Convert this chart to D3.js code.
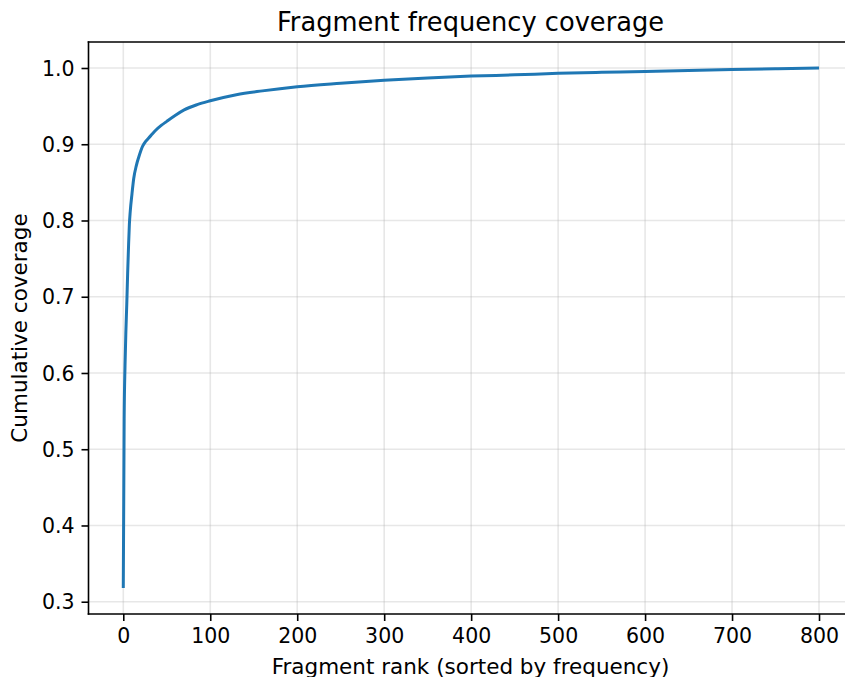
<!DOCTYPE html>
<html>
<head>
<meta charset="utf-8">
<script src="https://cdn.jsdelivr.net/npm/d3@7"></script>
<style>
  html, body { margin: 0; padding: 0; background: #fff; }
  svg { display: block; }
  text { font-family: "DejaVu Sans", sans-serif; fill: #000; }
</style>
</head>
<body>
<svg id="chart" width="845" height="677"></svg>
<script>
// ---- data ----
const ranks = [0, 1, 2, 3, 4, 5, 6, 7, 8, 10, 12, 15, 18, 22, 26, 29, 33, 37, 44, 50, 60, 70, 85, 100, 130, 160, 200, 250, 300, 350, 400, 450, 500, 550, 600, 650, 700, 750, 800];
const coverage = [0.318, 0.54, 0.61, 0.655, 0.69, 0.73, 0.765, 0.795, 0.812, 0.835, 0.855, 0.872, 0.884, 0.897, 0.904, 0.908, 0.913, 0.918, 0.925, 0.930, 0.938, 0.945, 0.952, 0.957, 0.965, 0.970, 0.9754, 0.980, 0.984, 0.987, 0.9894, 0.991, 0.993, 0.9943, 0.9955, 0.9968, 0.998, 0.999, 1.0];
const xTicks = [0, 100, 200, 300, 400, 500, 600, 700, 800];
const yTicks = [0.3, 0.4, 0.5, 0.6, 0.7, 0.8, 0.9, 1.0];
const titleText = "Fragment frequency coverage";
const xLabelText = "Fragment rank (sorted by frequency)";
const yLabelText = "Cumulative coverage";

const data = ranks.map((r, i) => ({ x: r, y: coverage[i] }));

const svg = d3.select("#chart");
const mLeft = 88.5, mRight = 853.8, mTop = 42, mBottom = 614;

const xMin = d3.min(ranks), xMax = d3.max(ranks);
const xPad = (xMax - xMin) * 0.05;
const yMin = d3.min(coverage), yMax = d3.max(coverage);
const yPad = (yMax - yMin) * 0.05;

const x = d3.scaleLinear().domain([xMin - xPad, xMax + xPad]).range([mLeft, mRight]);
const y = d3.scaleLinear().domain([yMin - yPad, yMax + yPad]).range([mBottom, mTop]);

// grid
const grid = svg.append("g");
grid.selectAll(".gx").data(xTicks).enter().append("line")
  .attr("x1", d => x(d)).attr("x2", d => x(d))
  .attr("y1", mTop).attr("y2", mBottom)
  .attr("stroke", "#b0b0b0").attr("stroke-opacity", 0.3).attr("stroke-width", 1.6);
grid.selectAll(".gy").data(yTicks).enter().append("line")
  .attr("x1", mLeft).attr("x2", mRight)
  .attr("y1", d => y(d)).attr("y2", d => y(d))
  .attr("stroke", "#b0b0b0").attr("stroke-opacity", 0.3).attr("stroke-width", 1.6);

// line
const line = d3.line().x(d => x(d.x)).y(d => y(d.y)).curve(d3.curveMonotoneX);
svg.append("path").datum(data)
  .attr("d", line)
  .attr("fill", "none")
  .attr("stroke", "#1f77b4")
  .attr("stroke-width", 3)
  .attr("stroke-linejoin", "round")
  .attr("stroke-linecap", "butt");

// axes
const xAxis = d3.axisBottom(x).tickValues(xTicks).tickFormat(d3.format("d")).tickSize(7).tickPadding(7);
const yAxis = d3.axisLeft(y).tickValues(yTicks).tickFormat(d3.format(".1f")).tickSize(7).tickPadding(7);

const gx = svg.append("g").attr("transform", `translate(0,${mBottom})`).call(xAxis);
const gy = svg.append("g").attr("transform", `translate(${mLeft},0)`).call(yAxis);
[gx, gy].forEach(g => {
  g.select(".domain").remove();
  g.selectAll(".tick line").attr("stroke", "#000").attr("stroke-width", 1.6);
  g.selectAll(".tick text").attr("font-size", 20.5).attr("font-family", "DejaVu Sans").attr("fill", "#000");
});
gy.selectAll(".tick text").attr("dy", "0.35em");

// spines
const sp = svg.append("g").attr("stroke", "#000").attr("stroke-width", 1.6).attr("stroke-linecap", "square");
sp.append("line").attr("x1", mLeft).attr("x2", mLeft).attr("y1", mTop).attr("y2", mBottom);
sp.append("line").attr("x1", mRight).attr("x2", mRight).attr("y1", mTop).attr("y2", mBottom);
sp.append("line").attr("x1", mLeft).attr("x2", mRight).attr("y1", mBottom).attr("y2", mBottom);
sp.append("line").attr("x1", mLeft).attr("x2", mRight).attr("y1", mTop).attr("y2", mTop);

// labels
const cx = 470.5;
svg.append("text").attr("x", cx).attr("y", 31).attr("text-anchor", "middle")
  .attr("font-size", 25.7).text(titleText);
svg.append("text").attr("x", cx).attr("y", 673.5).attr("text-anchor", "middle")
  .attr("font-size", 21.5).text(xLabelText);
svg.append("text").attr("transform", `translate(26.5,${(mTop + mBottom) / 2}) rotate(-90)`)
  .attr("text-anchor", "middle").attr("font-size", 21.5).text(yLabelText);
</script>
</body>
</html>
